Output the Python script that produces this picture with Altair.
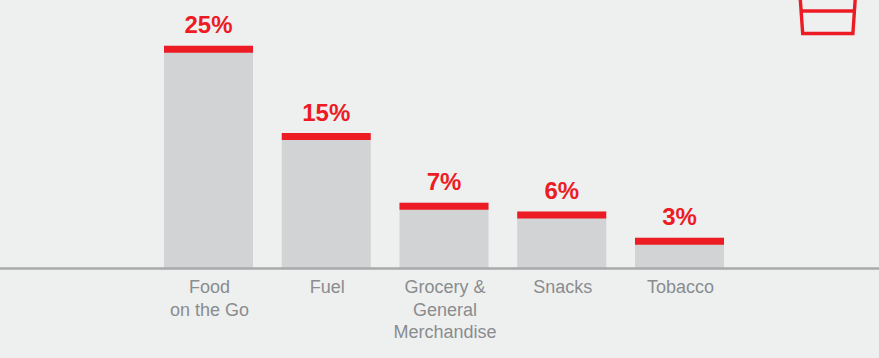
import altair as alt
import pandas as pd

categories = ["Food|on the Go", "Fuel", "Grocery &|General|Merchandise", "Snacks", "Tobacco"]
shares = [25, 15, 7, 6, 3]
share_labels = ["25%", "15%", "7%", "6%", "3%"]

# Outline of the glass pictogram in canvas units
glass_x = [800.2, 802.7, 852.9, 855.3]
glass_y = [-2, 33.5, 33.5, -2]
glass_rim_x = [801.6, 854.0]
glass_rim_y = [11, 11]

RED = "#ed1c24"
GREY_BAR = "#d1d3d4"
BACKGROUND = "#eef0f0"
Y_FLOOR = -0.47

bars = pd.DataFrame({"category": categories, "share": shares, "label": share_labels})
glass = pd.DataFrame({
    "x": glass_x + glass_rim_x,
    "y": glass_y + glass_rim_y,
    "part": ["outline"] * len(glass_x) + ["rim"] * len(glass_rim_x),
})

PLOT_W, PLOT_H = 879, 268

x = alt.X(
    "category:N",
    sort=None,
    title=None,
    scale=alt.Scale(range=[164, 724], paddingInner=0.244, paddingOuter=0),
    axis=alt.Axis(
        labelExpr="split(datum.value, '|')",
        labelAngle=0,
        labelFont="Liberation Sans",
        labelFontSize=18,
        labelColor="#8a8c8e",
        labelLineHeight=22.5,
        labelPadding=10.5,
        labelOffset=1,
        labelBaseline="top",
        labelOverlap=False,
        labelLimit=0,
        ticks=False,
        grid=False,
        domain=False,
    ),
)
y = alt.Y(
    "share:Q",
    title=None,
    axis=None,
    stack=None,
    scale=alt.Scale(domain=[Y_FLOOR, 30.26], zero=False, nice=False),
)

columns = alt.Chart(bars).mark_bar(color=GREY_BAR, opacity=1).encode(
    x=x, y=y, y2=alt.datum(Y_FLOOR)
)
caps = alt.Chart(bars).mark_tick(
    color=RED, size=89, thickness=7, yOffset=3.5, opacity=1
).encode(x=x, y=y)
labels = alt.Chart(bars).mark_text(
    color=RED,
    font="Liberation Sans",
    fontWeight="bold",
    fontSize=24,
    baseline="alphabetic",
    dy=-12.5,
).encode(x=x, y=y, text="label:N")

# Baseline running the full width of the chart
baseline = alt.Chart(bars).mark_rule(color="#a9abab", strokeWidth=1.6).encode(
    x=alt.value(0), x2=alt.value(PLOT_W), y=alt.value(PLOT_H + 0.5)
)

main = alt.layer(columns, caps, baseline, labels)

icon = alt.Chart(glass).mark_line(
    color=RED, strokeWidth=3.4, strokeJoin="miter", clip=True
).encode(
    x=alt.X("x:Q", axis=None, scale=alt.Scale(domain=[0, PLOT_W], nice=False, zero=False)),
    y=alt.Y("y:Q", axis=None, scale=alt.Scale(domain=[PLOT_H, 0], nice=False, zero=False)),
    detail="part:N",
)

chart = (
    alt.layer(main, icon)
    .resolve_scale(x="independent", y="independent")
    .properties(
        width=PLOT_W,
        height=PLOT_H,
        background=BACKGROUND,
        padding={"left": 0, "right": 0, "top": 0, "bottom": 90},
        autosize=alt.AutoSizeParams(type="none"),
    )
    .configure_view(stroke=None)
)

chart.save("out.html", embed_options={"renderer": "svg", "actions": False})
